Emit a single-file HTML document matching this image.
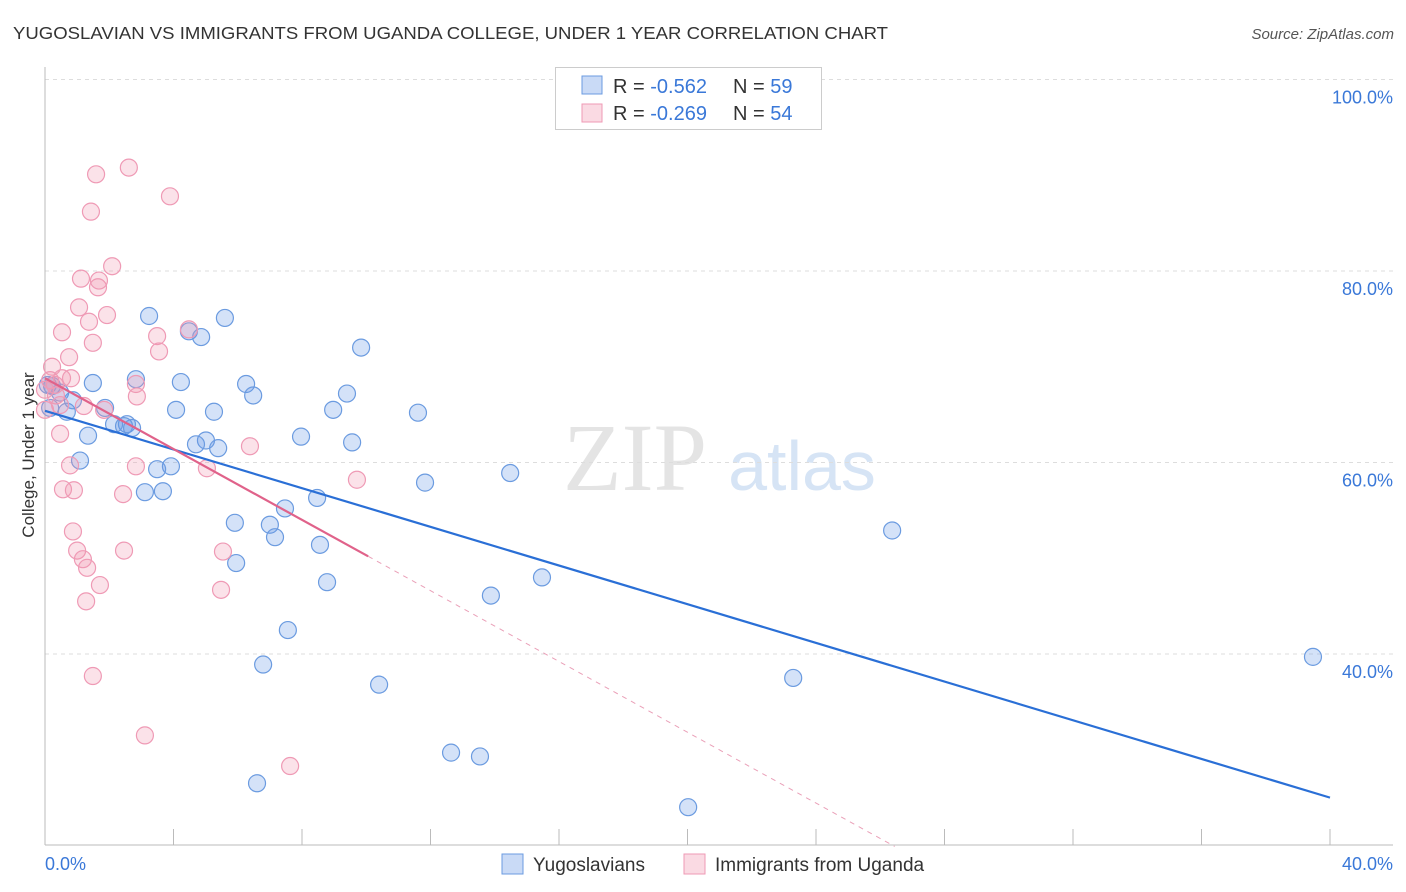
<!DOCTYPE html>
<html><head><meta charset="utf-8"><style>
body{margin:0;background:#fff;font-family:"Liberation Sans",sans-serif}
svg{display:block}
</style></head><body>
<svg id="chart" width="1406" height="892">
<text x="13" y="39" font-size="17.5" fill="#333" textLength="875" lengthAdjust="spacingAndGlyphs">YUGOSLAVIAN VS IMMIGRANTS FROM UGANDA COLLEGE, UNDER 1 YEAR CORRELATION CHART</text>
<text x="1394" y="39" font-size="15" fill="#555" font-style="italic" text-anchor="end">Source: ZipAtlas.com</text>
<text x="0" y="0" transform="translate(34,455) rotate(-90)" font-size="17" fill="#333" text-anchor="middle">College, Under 1 year</text>
<g>
<text x="635" y="490" font-family="Liberation Serif,serif" font-size="96" fill="#e4e4e4" text-anchor="middle">ZIP</text>
<text x="802" y="490" font-size="70" fill="#d6e4f5" text-anchor="middle">atlas</text>
</g>
<g id="grid"></g><g id="axes"></g><g id="marks"></g>
<g>
<rect x="555.5" y="67.5" width="266" height="62" fill="#fff" stroke="#ccc"/>
<rect x="582" y="76" width="20" height="18" fill="rgba(100,150,230,0.35)" stroke="#6b9be0"/>
<rect x="582" y="104" width="20" height="18" fill="rgba(240,150,175,0.35)" stroke="#ef9ab5"/>
<text x="613" y="93" font-size="20" fill="#333">R = <tspan fill="#3a78d8">-0.562</tspan></text>
<text x="733" y="93" font-size="20" fill="#333">N = <tspan fill="#3a78d8">59</tspan></text>
<text x="613" y="120" font-size="20" fill="#333">R = <tspan fill="#3a78d8">-0.269</tspan></text>
<text x="733" y="120" font-size="20" fill="#333">N = <tspan fill="#3a78d8">54</tspan></text>
</g>
<g>
<rect x="502" y="854" width="21" height="20" fill="rgba(100,150,230,0.35)" stroke="#6b9be0"/>
<text x="533" y="871" font-size="19" fill="#333">Yugoslavians</text>
<rect x="684" y="854" width="21" height="20" fill="rgba(240,150,175,0.35)" stroke="#ef9ab5"/>
<text x="715" y="871" font-size="19" fill="#333">Immigrants from Uganda</text>
</g>
</svg>
<script>
const blueX=[3.24,5.60,4.48,4.86,9.84,1.49,2.83,4.23,6.26,6.48,9.40,4.08,5.26,8.97,11.61,0.22,0.47,0.68,0.87,1.87,1.34,2.55,2.15,2.46,2.71,5.01,4.70,5.39,7.97,9.56,1.09,3.92,3.49,14.48,11.83,3.11,3.67,8.47,7.47,5.91,7.00,7.16,8.56,5.95,15.47,8.78,13.88,26.37,7.56,6.79,10.40,39.47,23.29,12.64,13.54,6.60,20.02,0.16,0.09];
const blueY=[75.3,75.1,73.7,73.1,72.0,68.3,68.7,68.4,68.2,67.0,67.2,65.5,65.3,65.5,65.2,68.0,67.3,65.3,66.5,65.7,62.8,64.0,64.0,63.8,63.6,62.3,61.9,61.5,62.7,62.1,60.2,59.6,59.3,58.9,57.9,56.9,57.0,56.3,55.2,53.7,53.5,52.2,51.4,49.5,48.0,47.5,46.1,52.9,42.5,38.9,36.8,39.7,37.5,29.7,29.3,26.5,24.0,65.7,68.1];
const pinkX=[2.61,1.59,3.89,1.43,2.09,1.12,1.65,1.68,1.06,1.93,1.37,0.53,1.49,4.48,3.49,3.55,0.75,0.22,0.53,0.81,0.31,0,0.34,0.47,1.21,1.84,2.83,2.86,0.47,0.78,2.83,6.38,5.04,9.71,0.56,0.90,2.43,0.87,1.00,1.18,1.31,1.71,2.46,5.54,1.28,5.48,1.49,3.11,7.63,0,0.16];
const pinkY=[90.8,90.1,87.8,86.2,80.5,79.2,78.3,79.0,76.2,75.4,74.7,73.6,72.5,73.9,73.2,71.6,71.0,70.0,68.8,68.8,68.1,67.6,67.0,66.0,65.9,65.5,68.2,66.9,63.0,59.7,59.6,61.7,59.4,58.2,57.2,57.1,56.7,52.8,50.8,49.9,49.0,47.2,50.8,50.7,45.5,46.7,37.7,31.5,28.3,65.5,68.6];
const blueTrend=[[0,65.4],[40,25.0]];
const pinkTrend=[[0,68.8],[10.06,50.2]];
const pinkDash=[[10.06,50.2],[26.45,19.9]];
const yTicks=[100,80,60,40];
const yTickLabels=["100.0%","80.0%","60.0%","40.0%"];
const xTicks=[0,4,8,12,16,20,24,28,32,36,40];
const NS="http://www.w3.org/2000/svg";
const sx=v=>45+v*(1285/40);
const sy=v=>79.5+(100-v)*(191.5/20);
function mk(tag,attrs,parent){const e=document.createElementNS(NS,tag);for(const k in attrs)e.setAttribute(k,attrs[k]);parent.appendChild(e);return e;}
const grid=document.getElementById('grid'),axes=document.getElementById('axes'),marks=document.getElementById('marks');
yTicks.forEach((t,i)=>{
 const l=mk('line',{x1:45,x2:1393,y1:sy(t),y2:sy(t),stroke:'#ddd','stroke-dasharray':'4,4'},grid);
 
 
 const tx=mk('text',{x:1393,y:sy(t)+24,'font-size':18,fill:'#3a78d8','text-anchor':'end'},axes);
 tx.textContent=yTickLabels[i];
 
 
});
mk('line',{x1:45,x2:45,y1:67,y2:845,stroke:'#bbb'},axes);
mk('line',{x1:45,x2:1393,y1:845,y2:845,stroke:'#bbb'},axes);
xTicks.forEach(t=>{
 const l=mk('line',{x1:sx(t),x2:sx(t),y1:829,y2:845,stroke:'#bbb'},axes);
 
 
});
const xl0=mk('text',{x:45,y:870,'font-size':18,fill:'#3a78d8'},axes);xl0.textContent='0.0%';


const xl1=mk('text',{x:1393,y:870,'font-size':18,fill:'#3a78d8','text-anchor':'end'},axes);xl1.textContent='40.0%';


blueX.forEach((x,i)=>{
 const c=mk('circle',{cx:sx(x),cy:sy(blueY[i]),r:8.5,fill:'rgba(100,150,230,0.28)',stroke:'#6b9be0','stroke-width':1.2},marks);
 
 
});
pinkX.forEach((x,i)=>{
 const c=mk('circle',{cx:sx(x),cy:sy(pinkY[i]),r:8.5,fill:'rgba(240,150,175,0.28)',stroke:'#ef9ab5','stroke-width':1.2},marks);
 
 
});
const bt=mk('line',{x1:sx(blueTrend[0][0]),y1:sy(blueTrend[0][1]),x2:sx(blueTrend[1][0]),y2:sy(blueTrend[1][1]),stroke:'#2a6fd6','stroke-width':2.2},marks);


const pt=mk('line',{x1:sx(pinkTrend[0][0]),y1:sy(pinkTrend[0][1]),x2:sx(pinkTrend[1][0]),y2:sy(pinkTrend[1][1]),stroke:'#e0628a','stroke-width':2.2},marks);


const pd=mk('line',{x1:sx(pinkDash[0][0]),y1:sy(pinkDash[0][1]),x2:sx(pinkDash[1][0]),y2:sy(pinkDash[1][1]),stroke:'#eaa0b8','stroke-width':1,'stroke-dasharray':'5,5'},marks);


</script>
</body></html>
